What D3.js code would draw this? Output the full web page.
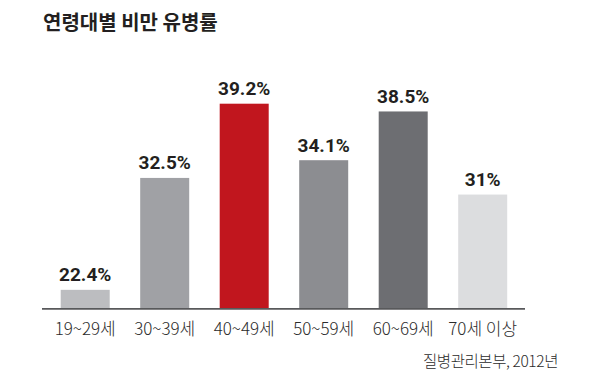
<!DOCTYPE html>
<html><head><meta charset="utf-8">
<script src="https://cdn.jsdelivr.net/npm/d3@7"></script>
<style>html,body{margin:0;padding:0;background:#fff;}svg{display:block;}</style>
</head><body>
<svg id="chart" width="600" height="384"></svg>
<script>
const title = "연령대별 비만 유병률";
const source = "질병관리본부, 2012년";
const categories = ["19~29세", "30~39세", "40~49세", "50~59세", "60~69세", "70세 이상"];
const values = [22.4, 32.5, 39.2, 34.1, 38.5, 31];
const valueLabels = ["22.4%", "32.5%", "39.2%", "34.1%", "38.5%", "31%"];
const colors = ["#bcbdc0", "#a0a1a5", "#c1161e", "#8c8d91", "#6d6e72", "#dcdddf"];

const svg = d3.select("#chart");
const baseY = 308;

const x = d3.scaleBand().domain(categories).range([45.45, 522.45])
  .paddingInner(0.3836).paddingOuter(0.1918);
const y = d3.scaleLinear().domain([20.76, 39.2]).range([baseY, baseY - 204.3]);

svg.append("text").attr("x", 43).attr("y", 30)
  .attr("font-family", "'Noto Sans CJK KR', sans-serif").attr("font-weight", 700)
  .attr("font-size", 20).attr("fill", "#231f20").text(title);

svg.selectAll("rect.bar").data(values).join("rect").attr("class", "bar")
  .attr("x", (d, i) => x(categories[i])).attr("width", x.bandwidth())
  .attr("y", d => y(d)).attr("height", d => baseY - y(d))
  .attr("fill", (d, i) => colors[i]);

svg.selectAll("text.val").data(values).join("text").attr("class", "val")
  .attr("x", (d, i) => x(categories[i]) + x.bandwidth() / 2)
  .attr("y", d => y(d) - 8.5).attr("text-anchor", "middle")
  .attr("font-family", "Roboto, sans-serif").attr("font-weight", 700)
  .attr("font-size", 19).attr("fill", "#231f20")
  .text((d, i) => valueLabels[i]);

const axis = d3.axisBottom(x).tickSize(0).tickPadding(0);
const g = svg.append("g").attr("transform", `translate(0,${baseY + 0.8})`).call(axis);
g.select(".domain").remove();
g.append("line").attr("x1", 42).attr("x2", 525).attr("stroke", "#58595b").attr("stroke-width", 1.7);
g.selectAll(".tick text").attr("dy", 0).attr("y", 26)
  .attr("font-family", "'Noto Sans CJK KR', sans-serif").attr("font-weight", 300)
  .attr("font-size", 17).attr("fill", "#2b2b2b");

svg.append("text").attr("x", 558).attr("y", 366.5).attr("text-anchor", "end")
  .attr("font-family", "'Noto Sans CJK KR', sans-serif").attr("font-weight", 300)
  .attr("font-size", 15.5).attr("fill", "#2b2b2b").attr("letter-spacing", -0.4).text(source);
</script>
</body></html>
